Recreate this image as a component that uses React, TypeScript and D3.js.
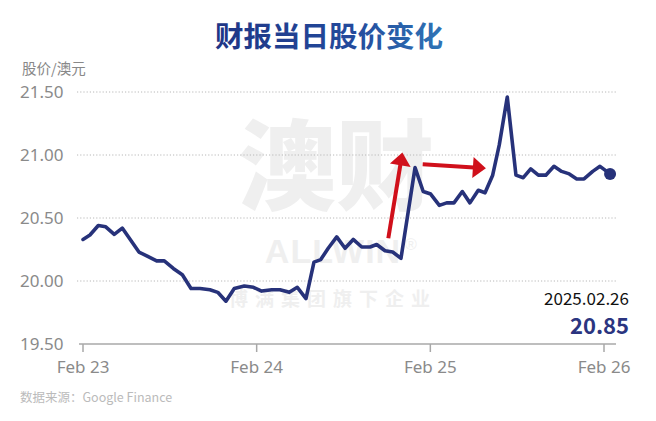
import React from "react";
import * as d3 from "d3";

const W = 656;
const H = 421;

// time in days since Feb 23 (tick positions), price in AUD
const times = [
  0.0, 0.04, 0.088, 0.131, 0.18, 0.226, 0.322, 0.367, 0.424, 0.468, 0.52, 0.572, 0.622, 0.674,
  0.731, 0.776, 0.823, 0.871, 0.929, 0.981, 1.029, 1.087, 1.134, 1.188, 1.234, 1.284, 1.33,
  1.369, 1.412, 1.461, 1.509, 1.556, 1.605, 1.653, 1.691, 1.739, 1.783, 1.831, 1.912, 1.959,
  2.002, 2.052, 2.094, 2.136, 2.184, 2.228, 2.276, 2.315, 2.359, 2.397, 2.443, 2.493, 2.535,
  2.578, 2.622, 2.665, 2.712, 2.756, 2.8, 2.843, 2.885, 2.935, 2.977, 3.035,
];
const prices = [
  20.33, 20.365, 20.44, 20.43, 20.37, 20.42, 20.23, 20.2, 20.16, 20.16, 20.1, 20.05, 19.94, 19.94,
  19.93, 19.91, 19.84, 19.94, 19.96, 19.95, 19.92, 19.93, 19.93, 19.91, 19.95, 19.86, 20.15,
  20.17, 20.26, 20.35, 20.26, 20.33, 20.27, 20.27, 20.29, 20.24, 20.23, 20.18, 20.9, 20.71,
  20.69, 20.6, 20.62, 20.62, 20.71, 20.62, 20.72, 20.7, 20.84, 21.08, 21.46, 20.84, 20.82,
  20.89, 20.84, 20.84, 20.91, 20.87, 20.85, 20.81, 20.81, 20.87, 20.91, 20.85,
];

const xTickValues = [0, 1, 2, 3];
const xTickLabels = ["Feb 23", "Feb 24", "Feb 25", "Feb 26"];
const yTickValues = [19.5, 20.0, 20.5, 21.0, 21.5];

// annotation arrows in data space: [tailDay, tailPrice, tipDay, tipPrice]
const arrows = [
  [1.758, 20.339, 1.839, 21.02],
  [1.956, 20.926, 2.32, 20.894],
];

const titleText = "财报当日股价变化";
const unitText = "股价/澳元";
const sourceText = "数据来源：Google Finance";
const lastDate = "2025.02.26";
const lastValue = "20.85";

const FONT = "'Noto Sans CJK SC', 'Noto Sans', sans-serif";

export default function App() {
  const x = d3.scaleLinear().domain([0, 3]).range([83, 604]);
  const y = d3.scaleLinear().domain([19.5, 21.5]).range([344, 92]);

  const pts = times.map((t, i) => [x(t), y(prices[i])] as [number, number]);
  const line = d3.line().curve(d3.curveLinear)(pts) || "";
  const last = pts[pts.length - 1];

  const arrowEls = arrows.map((a, i) => {
    const x1 = x(a[0]);
    const y1 = y(a[1]);
    const x2 = x(a[2]);
    const y2 = y(a[3]);
    const ang = Math.atan2(y2 - y1, x2 - x1);
    const headL = 13;
    const headW = 10.5;
    const bx = x2 - headL * Math.cos(ang);
    const by = y2 - headL * Math.sin(ang);
    const px = -Math.sin(ang);
    const py = Math.cos(ang);
    const head = `M${x2},${y2}L${bx + px * headW},${by + py * headW}L${bx - px * headW},${by - py * headW}Z`;
    return (
      <g key={i}>
        <line x1={x1} y1={y1} x2={bx + Math.cos(ang) * 1} y2={by + Math.sin(ang) * 1} stroke="#d0101b" strokeWidth={4} />
        <path d={head} fill="#d0101b" />
      </g>
    );
  });

  return (
    <svg width={W} height={H} style={{ position: "absolute", left: 0, top: 0, background: "#fff" }} fontFamily={FONT}>
      <defs>
        <linearGradient id="tg" x1="0" x2="1" y1="0" y2="0">
          <stop offset="0%" stopColor="#1f3585" />
          <stop offset="60%" stopColor="#234a9c" />
          <stop offset="100%" stopColor="#2f74b6" />
        </linearGradient>
      </defs>
      <rect width={W} height={H} fill="#fff" />
      <text x={329} y={47} textAnchor="middle" fontSize={28.5} fontWeight={700} fill="url(#tg)">
        {titleText}
      </text>

      {/* watermark */}
      <g fill="#efefef">
        <text x={336} y={202} textAnchor="middle" fontSize={98} fontWeight={900}>澳财</text>
        <text x={333} y={263} textAnchor="middle" fontSize={34} fontWeight={700} letterSpacing={1}
          fontFamily="'Liberation Sans', sans-serif">ALLWIN</text>
        <text x={411} y={250} textAnchor="middle" fontSize={16} fontFamily="'Liberation Sans', sans-serif">®</text>
        <text x={333} y={306} textAnchor="middle" fontSize={19} fontWeight={700} letterSpacing={7}>博满集团旗下企业</text>
      </g>

      <text x={22} y={74} fontSize={14.5} fill="#888">{unitText}</text>

      {yTickValues.map((v) => (
        <g key={v}>
          {v > 19.5 && (
            <line x1={77} x2={616} y1={y(v)} y2={y(v)} stroke="#b8b8b8" strokeWidth={1} strokeDasharray="1.2,2" />
          )}
          <text x={20} y={y(v) + 6} fontSize={17} fill="#8a8a8a" fontFamily="'Noto Sans', sans-serif">
            {v.toFixed(2)}
          </text>
        </g>
      ))}

      <line x1={79} x2={616} y1={y(19.5)} y2={y(19.5)} stroke="#a8a8a8" strokeWidth={1.5} />
      {xTickValues.map((t, i) => (
        <g key={t}>
          <line x1={x(t)} x2={x(t)} y1={y(19.5)} y2={y(19.5) + 8} stroke="#a8a8a8" strokeWidth={1.5} />
          <text x={x(t)} y={373} textAnchor="middle" fontSize={17} fill="#8a8a8a" fontFamily="'Noto Sans', sans-serif">
            {xTickLabels[i]}
          </text>
        </g>
      ))}

      {arrowEls}

      <path d={line} fill="none" stroke="#27327a" strokeWidth={3.6} strokeLinejoin="round" strokeLinecap="round" />
      <circle cx={last[0]} cy={last[1]} r={6} fill="#27327a" />

      <text x={629} y={305} textAnchor="end" fontSize={17} fill="#111">{lastDate}</text>
      <text x={629} y={334} textAnchor="end" fontSize={22} fontWeight={700} fill="#2b3580">{lastValue}</text>

      <text x={20} y={402} fontSize={12.5} fill="#bbbbbb">{sourceText}</text>
    </svg>
  );
}
